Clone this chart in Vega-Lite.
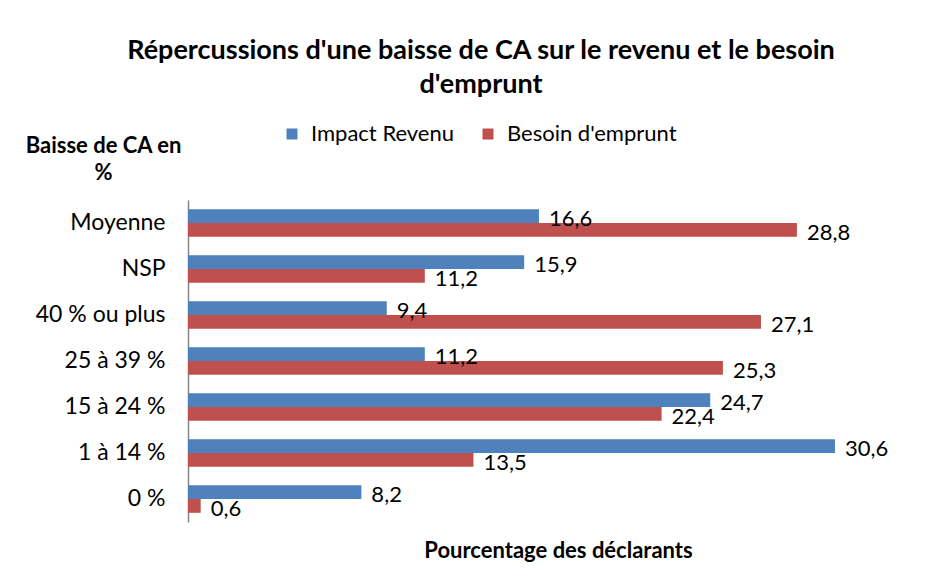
{
  "$schema": "https://vega.github.io/schema/vega-lite/v6.json",
  "width": 740,
  "height": 322,
  "autosize": {"type": "none"},
  "padding": {"left": 188, "top": 200, "right": 9, "bottom": 61},
  "background": "white",
  "config": {
    "font": "Lato",
    "view": {"stroke": null},
    "locale": {"number": {"decimal": ",", "thousands": " ", "grouping": [3], "currency": ["", " €"]}}
  },
  "title": {
    "text": ["Répercussions d'une baisse de CA sur le revenu et le besoin", "d'emprunt"],
    "fontSize": 27,
    "fontWeight": "bold",
    "lineHeight": 34,
    "color": "#000000",
    "anchor": "middle",
    "dx": -77,
    "offset": 24,
    "limit": 900
  },
  "data": {
    "values": [
      {"cat": "Moyenne", "serie": "Impact Revenu", "value": 16.6},
      {"cat": "Moyenne", "serie": "Besoin d'emprunt", "value": 28.8},
      {"cat": "NSP", "serie": "Impact Revenu", "value": 15.9},
      {"cat": "NSP", "serie": "Besoin d'emprunt", "value": 11.2},
      {"cat": "40 % ou plus", "serie": "Impact Revenu", "value": 9.4},
      {"cat": "40 % ou plus", "serie": "Besoin d'emprunt", "value": 27.1},
      {"cat": "25 à 39 %", "serie": "Impact Revenu", "value": 11.2},
      {"cat": "25 à 39 %", "serie": "Besoin d'emprunt", "value": 25.3},
      {"cat": "15 à 24 %", "serie": "Impact Revenu", "value": 24.7},
      {"cat": "15 à 24 %", "serie": "Besoin d'emprunt", "value": 22.4},
      {"cat": "1 à 14 %", "serie": "Impact Revenu", "value": 30.6},
      {"cat": "1 à 14 %", "serie": "Besoin d'emprunt", "value": 13.5},
      {"cat": "0 %", "serie": "Impact Revenu", "value": 8.2},
      {"cat": "0 %", "serie": "Besoin d'emprunt", "value": 0.6}
    ]
  },
  "encoding": {
    "y": {
      "field": "cat",
      "type": "nominal",
      "sort": ["Moyenne", "NSP", "40 % ou plus", "25 à 39 %", "15 à 24 %", "1 à 14 %", "0 %"],
      "scale": {"paddingInner": 0.4, "paddingOuter": 0.2},
      "axis": {
        "title": ["Baisse de CA en", "%"],
        "titleAngle": 0,
        "titleX": -85,
        "titleY": -48,
        "titleAlign": "center",
        "titleBaseline": "alphabetic",
        "titleFontSize": 22,
        "titleFontWeight": "bold",
        "titleColor": "#000000",
        "titleLineHeight": 27,
        "labelFontSize": 23,
        "labelColor": "#000000",
        "labelPadding": 23,
        "ticks": false,
        "domainColor": "#868686",
        "domainWidth": 1.5,
        "grid": false
      }
    },
    "yOffset": {"field": "serie", "type": "nominal", "sort": ["Impact Revenu", "Besoin d'emprunt"]},
    "x": {
      "field": "value",
      "type": "quantitative",
      "scale": {"domain": [0, 35]},
      "axis": {
        "title": "Pourcentage des déclarants",
        "titleFontSize": 22,
        "titleFontWeight": "bold",
        "titleColor": "#000000",
        "titlePadding": 18,
        "labels": false,
        "ticks": false,
        "domain": false,
        "grid": false
      }
    }
  },
  "layer": [
    {
      "mark": {"type": "bar"},
      "encoding": {
        "color": {
          "field": "serie",
          "type": "nominal",
          "scale": {"domain": ["Impact Revenu", "Besoin d'emprunt"], "range": ["#4F81BD", "#C0504D"]},
          "legend": {
            "title": null,
            "orient": "none",
            "direction": "horizontal",
            "legendX": 93,
            "legendY": -77,
            "symbolType": "square",
            "symbolSize": 121,
            "symbolStrokeWidth": 0,
            "labelFontSize": 22,
            "labelColor": "#000000",
            "labelOffset": 8,
            "labelLimit": 400,
            "columnPadding": 22
          }
        }
      }
    },
    {
      "mark": {"type": "text", "align": "left", "baseline": "middle", "dx": 10, "dy": 3, "fontSize": 22, "color": "#000000"},
      "encoding": {"text": {"field": "value", "type": "quantitative", "format": ".1f"}}
    }
  ]
}
